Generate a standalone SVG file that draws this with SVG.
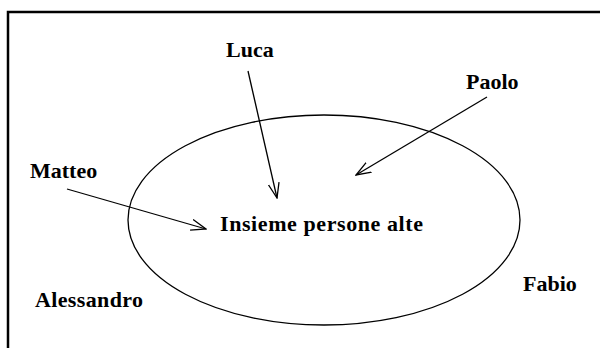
<svg xmlns="http://www.w3.org/2000/svg" width="600" height="348" viewBox="0 0 600 348">
<defs>
<style>
.lbl{font-family:"Liberation Serif","Times New Roman",serif;font-weight:bold;font-size:22px;fill:#000}
.ln{stroke:#000;stroke-width:1.3;fill:none}
</style>
<marker id="ah" viewBox="0 0 16 12" refX="15" refY="6" markerWidth="16" markerHeight="12" markerUnits="userSpaceOnUse" orient="auto">
<path d="M0,0.5 L15,6 L0,11.5" fill="none" stroke="#000" stroke-width="1.3"/>
</marker>
</defs>
<rect width="600" height="348" fill="#fff"/>
<path d="M8,348 V12 H600" fill="none" stroke="#000" stroke-width="2.5"/>
<g id="set">
<ellipse cx="324" cy="220" rx="196" ry="105" class="ln"/>
<text class="lbl" x="220" y="231" textLength="203" lengthAdjust="spacing">Insieme persone alte</text>
</g>
<g id="luca"><text class="lbl" x="226" y="57">Luca</text></g>
<g id="paolo"><text class="lbl" x="466" y="89">Paolo</text></g>
<g id="matteo"><text class="lbl" x="30" y="178">Matteo</text></g>
<g id="alessandro"><text class="lbl" x="35" y="307" textLength="108" lengthAdjust="spacing">Alessandro</text></g>
<g id="fabio"><text class="lbl" x="523" y="291">Fabio</text></g>
<g id="connectors">
<line class="ln" x1="248" y1="71" x2="277" y2="198" marker-end="url(#ah)"/>
<line class="ln" x1="487" y1="97" x2="356" y2="175" marker-end="url(#ah)"/>
<line class="ln" x1="67" y1="189" x2="206" y2="229" marker-end="url(#ah)"/>
</g>
</svg>
